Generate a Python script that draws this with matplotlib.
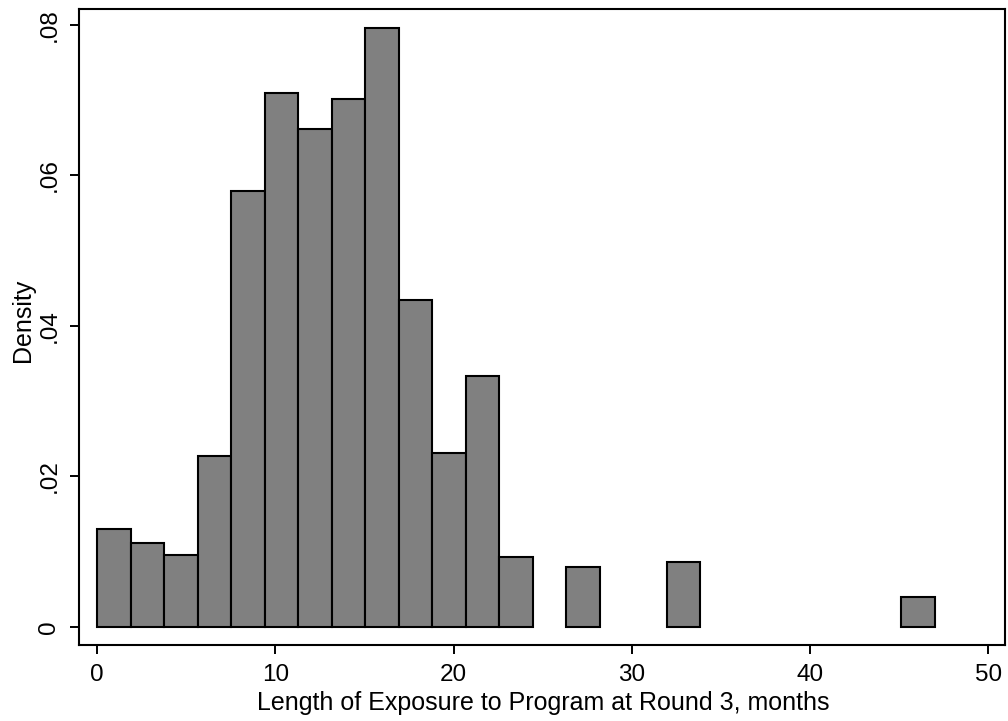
import matplotlib.pyplot as plt
import numpy as np

plt.rcParams['font.family'] = ['Liberation Sans', 'DejaVu Sans']

# histogram bins (25 bins of width 1.88 from 0 to 47) and density heights
binWidth = 1.88
binCount = 25
density = [0.0130, 0.0112, 0.0096, 0.0227, 0.0579, 0.0710, 0.0662, 0.0702,
           0.0796, 0.0435, 0.0231, 0.0334, 0.0093, 0.0, 0.0080, 0.0,
           0.0, 0.0086, 0.0, 0.0, 0.0, 0.0, 0.0, 0.0, 0.0040]
xTicks = [0, 10, 20, 30, 40, 50]
yTicks = [0, 0.02, 0.04, 0.06, 0.08]
yTickLabels = ['0', '.02', '.04', '.06', '.08']

fig = plt.figure(figsize=(10.08, 7.21), dpi=100)
ax = fig.add_axes([79 / 1008, 1 - 645 / 721, (1005 - 79) / 1008, (645 - 9) / 721])

left = np.arange(binCount) * binWidth
heights = np.array(density)
keep = heights > 0
ax.bar(left[keep], heights[keep], width=binWidth, align='edge',
       color='#808080', edgecolor='black', linewidth=1.5)

ax.set_xlim(-1.01, 50.93)
ax.set_ylim(-0.0024, 0.0821)
ax.set_xticks(xTicks)
ax.set_yticks(yTicks)
ax.set_yticklabels(yTickLabels, rotation=90, va='center')
ax.tick_params(labelsize=17.5, length=6.5, width=1.4, direction='out', pad=7)

for side in ['left', 'bottom', 'right', 'top']:
    ax.spines[side].set_linewidth(1.5)

ax.set_xlabel('Length of Exposure to Program at Round 3, months', fontsize=18, va='baseline')
ax.xaxis.set_label_coords(0.5016, -0.1022)
ax.set_ylabel('Density', fontsize=18, va='center')
ax.yaxis.set_label_coords(-0.0605, 0.51)

fig.savefig('out.png', dpi=100)
